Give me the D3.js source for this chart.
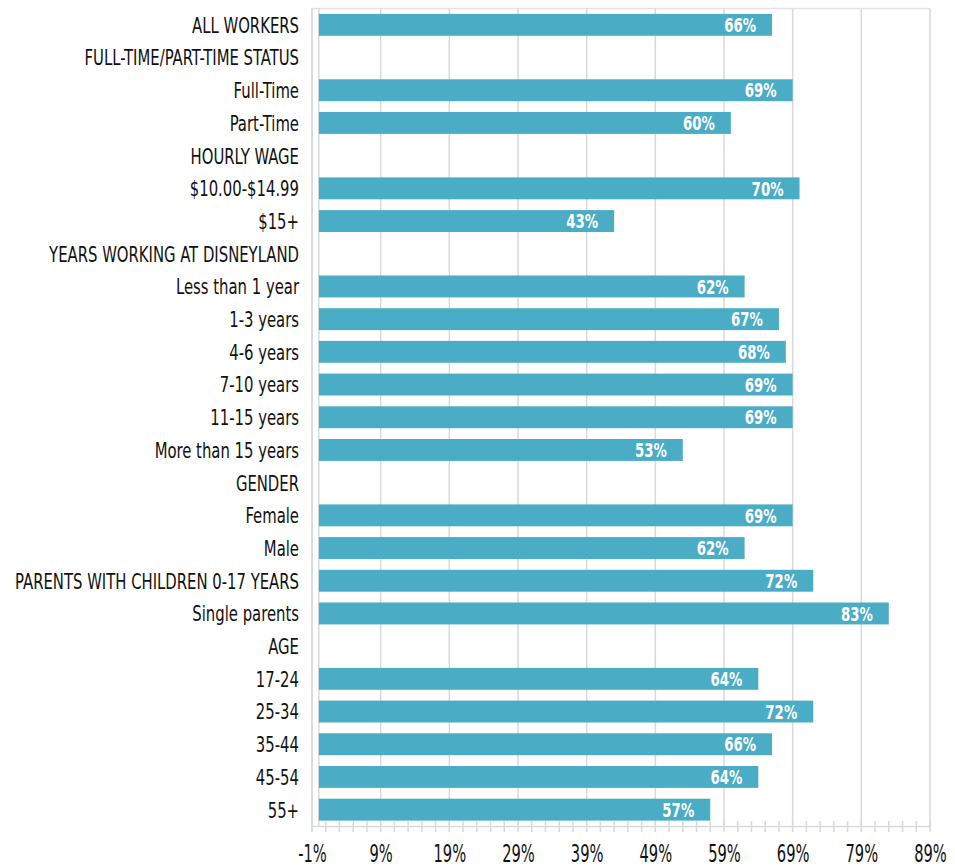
<!DOCTYPE html>
<html>
<head>
<meta charset="utf-8">
<script src="https://cdn.jsdelivr.net/npm/d3@7"></script>
<style>
  body { margin: 0; background: #fff; }
  text { font-family: "DejaVu Sans Condensed", "Liberation Sans Narrow", sans-serif; }
</style>
</head>
<body>
<div id="myChart"></div>
<script>
// Categories top to bottom (header rows have no value)
const categories = [
  "ALL WORKERS", "FULL-TIME/PART-TIME STATUS", "Full-Time", "Part-Time",
  "HOURLY WAGE", "$10.00-$14.99", "$15+", "YEARS WORKING AT DISNEYLAND",
  "Less than 1 year", "1-3 years", "4-6 years", "7-10 years", "11-15 years",
  "More than 15 years", "GENDER", "Female", "Male",
  "PARENTS WITH CHILDREN 0-17 YEARS", "Single parents", "AGE",
  "17-24", "25-34", "35-44", "45-54", "55+"
];
const values = [
  66, null, 69, 60,
  null, 70, 43, null,
  62, 67, 68, 69, 69,
  53, null, 69, 62,
  72, 83, null,
  64, 72, 66, 64, 57
];
const tickValues = [-1, 9, 19, 29, 39, 49, 59, 69, 79, 89];

const w = 955, h = 867;
const margin = {top: 8.5, left: 312, bottom: 41, right: 25};
const innerWidth = w - margin.left - margin.right;
const innerHeight = h - margin.top - margin.bottom;

const data = categories.map((c, i) => ({name: c, value: values[i]}));

// squeeze text horizontally to mimic the condensed font of the original
function condense(sel, k) {
  sel.each(function() {
    const len = this.getComputedTextLength();
    d3.select(this)
      .attr("textLength", len * k)
      .attr("lengthAdjust", "spacingAndGlyphs");
  });
}

const svg = d3.select("#myChart")
  .append("svg")
    .attr("width", w)
    .attr("height", h);

const mainG = svg.append("g")
    .attr("transform", `translate(${margin.left}, ${margin.top})`);

const xScale = d3.scaleLinear()
  .domain([-1, 89])
  .range([0, innerWidth]);

const yScale = d3.scaleBand()
  .domain(categories)
  .range([0, innerHeight])
  .paddingInner(0.33)
  .paddingOuter(0.165);

// gridlines
mainG.append("g")
  .selectAll("line")
  .data(tickValues)
  .join("line")
    .attr("x1", d => xScale(d))
    .attr("x2", d => xScale(d))
    .attr("y1", 0)
    .attr("y2", innerHeight)
    .attr("stroke", "#d9d9d9")
    .attr("stroke-width", 1.5);

// top border
mainG.append("line")
  .attr("x1", 0).attr("x2", innerWidth)
  .attr("y1", 0).attr("y2", 0)
  .attr("stroke", "#e3e3e3").attr("stroke-width", 1.5);

// category axis line at 0
mainG.append("line")
  .attr("x1", xScale(0)).attr("x2", xScale(0))
  .attr("y1", 0).attr("y2", innerHeight)
  .attr("stroke", "#d9d9d9").attr("stroke-width", 1.5);

// bars
mainG.selectAll(".bar")
  .data(data.filter(d => d.value != null))
  .join("rect")
    .attr("class", "bar")
    .attr("x", xScale(0))
    .attr("y", d => yScale(d.name))
    .attr("width", d => xScale(d.value) - xScale(0))
    .attr("height", yScale.bandwidth())
    .attr("fill", "#4bacc6");

// value labels
mainG.selectAll(".val")
  .data(data.filter(d => d.value != null))
  .join("text")
    .attr("class", "val")
    .attr("x", d => xScale(d.value) - 16)
    .attr("y", d => yScale(d.name) + yScale.bandwidth() / 2)
    .attr("dy", "0.37em")
    .attr("text-anchor", "end")
    .attr("fill", "#fff")
    .style("font-size", "19.5px")
    .style("font-weight", "bold")
    .text(d => d.value + "%")
    .call(condense, 0.76);

// category labels
mainG.selectAll(".cat")
  .data(data)
  .join("text")
    .attr("class", "cat")
    .attr("x", -13)
    .attr("y", d => yScale(d.name) + yScale.bandwidth() / 2)
    .attr("dy", "0.36em")
    .attr("text-anchor", "end")
    .attr("fill", "#111")
    .style("font-size", "22px")
    .text(d => d.name)
    .call(condense, 0.75);

// x axis
const xAxis = d3.axisBottom(xScale)
  .tickValues(tickValues)
  .tickFormat(d => d + "%")
  .tickSize(0)
  .tickPadding(0);

const xg = mainG.append("g")
  .attr("transform", `translate(0,${innerHeight})`)
  .call(xAxis);
xg.select(".domain").attr("stroke", "#d9d9d9").attr("stroke-width", 1.5);
xg.selectAll(".tick text")
  .attr("y", 36)
  .attr("dy", 0)
  .attr("fill", "#111")
  .style("font-size", "24px")
  .call(condense, 0.68);

// minor ticks every 2%
mainG.append("g")
  .selectAll("line")
  .data(d3.range(-1, 90, 2))
  .join("line")
    .attr("x1", d => xScale(d))
    .attr("x2", d => xScale(d))
    .attr("y1", innerHeight - 5)
    .attr("y2", innerHeight + 6)
    .attr("stroke", "#d9d9d9")
    .attr("stroke-width", 1.5);

// left frame line
mainG.append("line")
  .attr("x1", 0).attr("x2", 0)
  .attr("y1", 0).attr("y2", innerHeight + 6)
  .attr("stroke", "#d9d9d9").attr("stroke-width", 1.5);
</script>
</body>
</html>
